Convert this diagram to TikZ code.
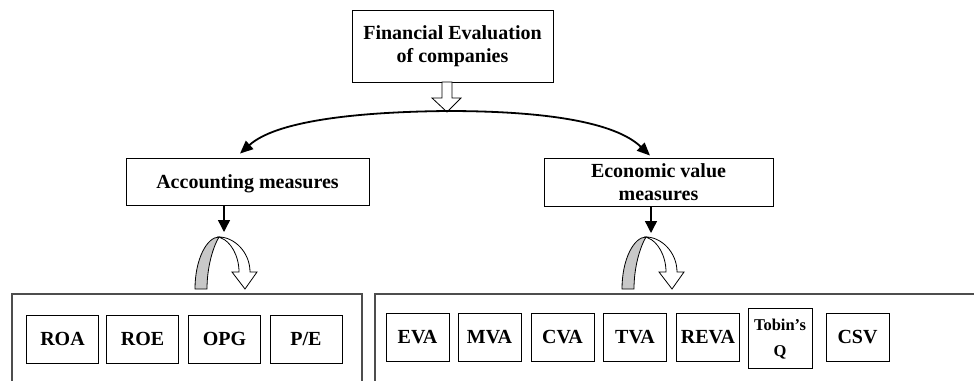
\documentclass[tikz,border=0pt]{standalone}
\usepackage{fontspec}
\setmainfont{Liberation Serif}
\usetikzlibrary{arrows.meta}
\definecolor{bandgray}{HTML}{C8C8C8}
\definecolor{framegray}{HTML}{4D4D4D}
\tikzset{
  box/.style={draw,line width=0.9pt,inner sep=0pt,align=center,
    font=\fontsize{20}{23}\selectfont\bfseries},
  mbox/.style={box,minimum height=48pt,text height=13.3pt,text depth=0pt},
  lbox/.style={mbox,minimum width=72pt},
  rbox/.style={mbox,minimum width=63pt},
  curvearrow/.style={line width=1.8pt,{Triangle[length=13pt,width=11pt]}-{Triangle[length=13pt,width=11pt]}},
  dnarrow/.style={line width=1.4pt,-{Triangle[length=12pt,width=12pt]}},
  frame/.style={draw=framegray,line width=1.4pt},
  blockarrow/.style={draw,line width=0.8pt,fill=white,line join=miter},
  pics/uturn/.style={code={
    \draw[line width=0.8pt,fill=bandgray] (-27,52) .. controls (-27,22) and (-15,0) .. (-3,0)
       .. controls (-9,10) and (-15,30) .. (-15,52) -- cycle;
    \draw[line width=0.8pt,fill=white,line join=miter] (-3,0) .. controls (12,0) and (28,15) .. (28,35)
       -- (35,35) -- (23,52) -- (10,35) -- (17,35) .. controls (17,18) and (8,4) .. (-1,1) -- cycle;
  }}
}
\begin{document}
\begin{tikzpicture}[x=1pt,y=-1pt]
\useasboundingbox (0,0) rectangle (974,380);
\clip (0,0) rectangle (974,380);
\fill[white] (0,0) rectangle (974,380);

% main boxes
\node[box,minimum width=201pt,minimum height=72pt] (fin) at (452.5,46) {Financial Evaluation\\of companies};
\node[box,minimum width=243pt,minimum height=47pt,text depth=0pt] (acc) at (247.5,181.5) {Accounting measures};
\node[box,minimum width=229pt,minimum height=48pt] (eco) at (658.5,182) {Economic value\\measures};

% block arrow below top box
\coordinate (ba) at (447,82);
\draw[blockarrow,shift={(ba)}] (-5,0) -- (-5,16) -- (-15,16) -- (0,30) -- (14,16) -- (5,16) -- (5,0) -- cycle;

% curved double arrow
\draw[curvearrow] ([xshift=-7.5pt,yshift=4pt]acc.north) .. controls (275,122) and (350,112) .. (447,111)
   .. controls (545,111) and (615,122) .. ([xshift=-8.5pt,yshift=2pt]eco.north);

% down arrows
\coordinate (uL) at (224,232);
\coordinate (uR) at (651,233);
\draw[dnarrow] (acc.south -| uL) -- (uL);
\draw[dnarrow] (eco.south -| uR) -- (uR);

% u-turn arrows
\pic at (222,237) {uturn};
\pic at (649,237) {uturn};

% group frames
\draw[frame] (12,400) -- (12,294) -- (362,294) -- (362,400);
\draw[frame] (375,400) -- (375,294) -- (1000,294);

% accounting measures
\node[lbox] (roa) at (62.5,339) {ROA};
\node[lbox] (roe) at (142.5,339) {ROE};
\node[lbox] (opg) at (224.5,339) {OPG};
\node[lbox] (pe) at (306,339) {P/E};

% economic value measures
\node[rbox] (eva) at (417.5,337) {EVA};
\node[rbox] (mva) at (489.5,337) {MVA};
\node[rbox] (cva) at (562.5,337) {CVA};
\node[rbox] (tva) at (635,337) {TVA};
\node[rbox] (reva) at (708,337) {REVA};
\node[box,minimum width=64pt,minimum height=60pt,text depth=0pt,font=\fontsize{16.5}{26}\selectfont\bfseries] (tobin) at (780,338) {Tobin’s\\Q};
\node[rbox] (csv) at (857.5,337) {CSV};
\end{tikzpicture}
\end{document}
